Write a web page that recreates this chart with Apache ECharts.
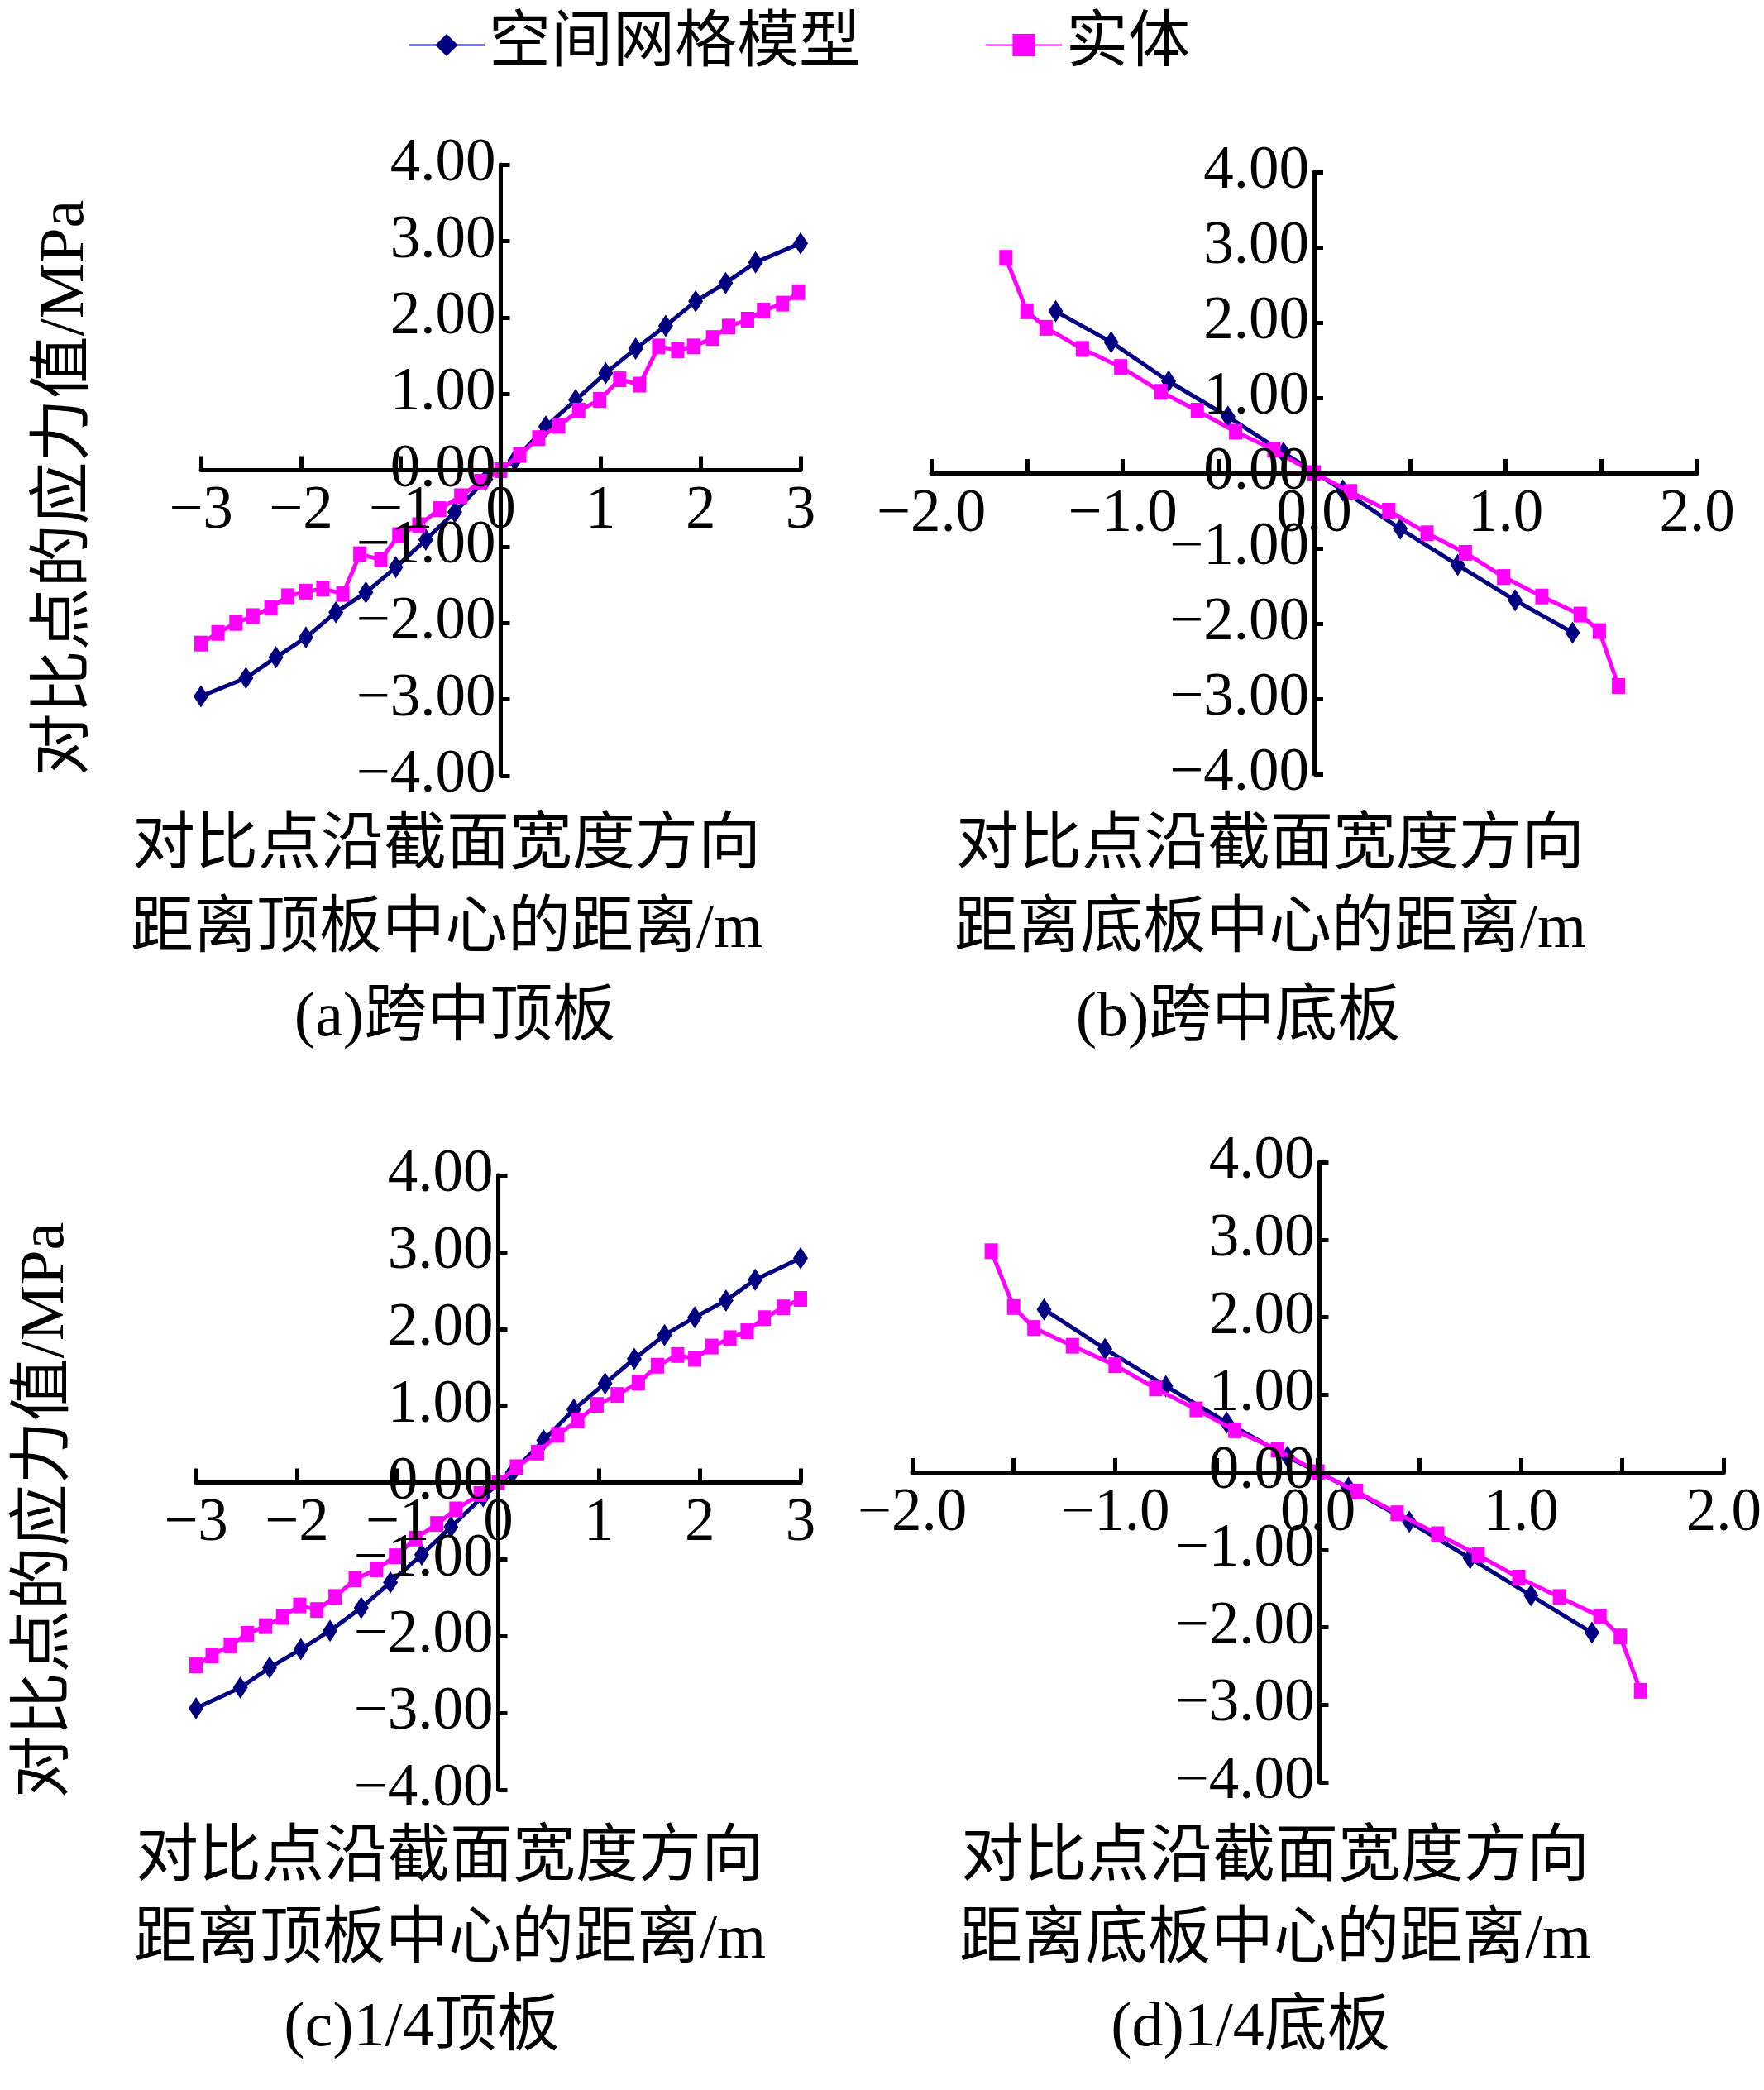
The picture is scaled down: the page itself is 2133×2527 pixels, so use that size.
<!DOCTYPE html>
<html>
<head>
<meta charset="utf-8">
<script src="https://cdn.jsdelivr.net/npm/echarts@6/dist/echarts.min.js"></script>
<style>
html,body{margin:0;padding:0;background:#fff;}
#chart{width:2133px;height:2527px;}
</style>
</head>
<body>
<div id="chart"></div>
<script>
// ---------- data ----------
const seriesNames = ['空间网格模型', '实体'];

// (a) 跨中顶板
const aGridX = [-3.0,-2.55,-2.25,-1.95,-1.65,-1.35,-1.05,-0.75,-0.46,-0.15,0.14,0.45,0.75,1.05,1.35,1.65,1.95,2.25,2.55,3.0];
const aGridY = [-2.96,-2.72,-2.45,-2.19,-1.86,-1.60,-1.27,-0.91,-0.55,-0.12,0.13,0.57,0.92,1.27,1.59,1.89,2.21,2.45,2.72,2.97];
const aSolidX = [-3.00,-2.83,-2.65,-2.48,-2.30,-2.13,-1.95,-1.78,-1.58,-1.41,-1.20,-1.02,-0.82,-0.61,-0.40,-0.20,0,0.19,0.38,0.58,0.78,0.99,1.19,1.39,1.58,1.77,1.93,2.12,2.28,2.47,2.63,2.82,2.98];
const aSolidY = [-2.27,-2.13,-2.00,-1.91,-1.80,-1.65,-1.59,-1.55,-1.62,-1.10,-1.17,-0.85,-0.72,-0.51,-0.34,-0.15,0,0.20,0.42,0.58,0.78,0.92,1.19,1.12,1.62,1.57,1.62,1.73,1.88,1.97,2.09,2.18,2.33];

// (b) 跨中底板
const bGridX = [-1.35,-1.06,-0.76,-0.45,-0.16,0.15,0.45,0.75,1.05,1.35];
const bGridY = [2.15,1.74,1.22,0.75,0.27,-0.23,-0.74,-1.22,-1.69,-2.12];
const bSolidX = [-1.61,-1.50,-1.40,-1.21,-1.01,-0.80,-0.61,-0.41,-0.21,0,0.19,0.39,0.59,0.79,0.99,1.19,1.39,1.49,1.59];
const bSolidY = [2.86,2.15,1.93,1.65,1.41,1.08,0.83,0.55,0.31,0,-0.25,-0.50,-0.80,-1.06,-1.38,-1.64,-1.88,-2.10,-2.83];

// (c) 1/4顶板
const cGridX = [-3.0,-2.56,-2.27,-1.96,-1.67,-1.36,-1.07,-0.76,-0.47,-0.15,0.14,0.45,0.75,1.06,1.35,1.65,1.95,2.26,2.55,3.0];
const cGridY = [-2.94,-2.67,-2.41,-2.17,-1.93,-1.63,-1.30,-0.94,-0.58,-0.18,0.13,0.55,0.95,1.29,1.61,1.92,2.15,2.37,2.64,2.92];
const cSolidX = [-3.00,-2.84,-2.66,-2.49,-2.31,-2.14,-1.97,-1.80,-1.62,-1.42,-1.21,-1.02,-0.82,-0.61,-0.42,-0.18,0,0.18,0.39,0.59,0.79,0.98,1.18,1.39,1.58,1.78,1.95,2.12,2.30,2.47,2.64,2.83,3.00];
const cSolidY = [-2.38,-2.25,-2.12,-1.97,-1.87,-1.75,-1.60,-1.66,-1.49,-1.26,-1.13,-0.96,-0.73,-0.54,-0.35,-0.15,0,0.20,0.39,0.62,0.81,1.01,1.14,1.30,1.52,1.66,1.61,1.77,1.88,1.97,2.14,2.28,2.39];

// (d) 1/4底板
const dGridX = [-1.35,-1.05,-0.75,-0.45,-0.15,0.15,0.45,0.75,1.05,1.35];
const dGridY = [2.10,1.59,1.11,0.64,0.20,-0.20,-0.64,-1.11,-1.59,-2.07];
const dSolidX = [-1.61,-1.50,-1.40,-1.21,-1.00,-0.80,-0.60,-0.41,-0.20,0,0.19,0.39,0.59,0.79,0.99,1.19,1.39,1.49,1.59];
const dSolidY = [2.85,2.13,1.86,1.63,1.38,1.08,0.81,0.54,0.29,0,-0.25,-0.53,-0.80,-1.07,-1.36,-1.61,-1.86,-2.12,-2.82];

// axis ranges / tick labels
const yTicks = {min: -4, max: 4, interval: 1};
const xTopTicks = {min: -3, max: 3, interval: 1};
const xBottomTicks = {min: -2, max: 2, interval: 0.5};

const xTitleLine1 = '对比点沿截面宽度方向';
const xTitleTop = '距离顶板中心的距离/m';
const xTitleBottom = '距离底板中心的距离/m';
const yTitle = '对比点的应力值/MPa';
const captions = ['(a)跨中顶板', '(b)跨中底板', '(c)1/4顶板', '(d)1/4底板'];

// ---------- chart ----------
const FONT = "'Liberation Serif','Times New Roman','Noto Sans CJK SC',serif";
const BLUE = '#000080';
const MAGENTA = '#ff00ff';

const grids = [
  {left: 243, top: 199, width: 725, height: 739},
  {left: 1126, top: 208, width: 926, height: 728},
  {left: 237, top: 1421, width: 731, height: 743},
  {left: 1103, top: 1405, width: 985, height: 750}
];

const fmtY = v => (v < -1e-9 ? '\u2212' : '') + Math.abs(v).toFixed(2);
const fmtXTop = v => (v < -1e-9 ? '\u2212' : '') + Math.abs(v).toFixed(0);
const fmtXBottom = v => {
  if (Math.abs(Math.round(v * 2)) % 2 === 1) return '';
  return (v < -1e-9 ? '\u2212' : '') + Math.abs(v).toFixed(1);
};

// axes cross at the origin: both ranges are symmetric, so shift each axis half the grid inward
function xAxisFor(i, ticks, fmt) {
  return {
    type: 'value', gridIndex: i, min: ticks.min, max: ticks.max, interval: ticks.interval,
    position: 'bottom', offset: -grids[i].height / 2,
    axisLine: {onZero: false, lineStyle: {color: '#000', width: 5}},
    axisTick: {show: true, inside: true, length: 17, lineStyle: {color: '#000', width: 5}},
    axisLabel: {formatter: fmt, color: '#000', fontSize: 73, fontFamily: FONT, margin: 14},
    splitLine: {show: false}, z: 5
  };
}
function yAxisFor(i) {
  return {
    type: 'value', gridIndex: i, min: yTicks.min, max: yTicks.max, interval: yTicks.interval,
    position: 'left', offset: -grids[i].width / 2,
    axisLine: {onZero: false, lineStyle: {color: '#000', width: 5}},
    axisTick: {show: true, inside: true, length: 11, lineStyle: {color: '#000', width: 5}},
    axisLabel: {formatter: fmtY, color: '#000', fontSize: 73, fontFamily: FONT, margin: 6},
    splitLine: {show: false}, z: 5
  };
}

const zip = (xs, ys) => xs.map((x, k) => [x, ys[k]]);

function gridSeries(i, xs, ys) {
  return {
    name: seriesNames[0], type: 'line', xAxisIndex: i, yAxisIndex: i,
    data: zip(xs, ys), symbol: 'diamond', symbolSize: [18, 27], showAllSymbol: true,
    itemStyle: {color: BLUE}, lineStyle: {color: BLUE, width: 5}, z: 3
  };
}
function solidSeries(i, xs, ys) {
  return {
    name: seriesNames[1], type: 'line', xAxisIndex: i, yAxisIndex: i,
    data: zip(xs, ys), symbol: 'rect', symbolSize: [16, 19], showAllSymbol: true,
    itemStyle: {color: MAGENTA}, lineStyle: {color: MAGENTA, width: 5}, z: 4
  };
}

function text(x, y, str, size, rot) {
  return {
    type: 'text', x: x, y: y, rotation: rot || 0,
    style: {text: str, fontSize: size, fontFamily: FONT, fill: '#000',
            align: 'center', verticalAlign: 'middle'}
  };
}

const graphics = [
  text(540, 1024, xTitleLine1, 76), text(540, 1125, xTitleTop, 76), text(550, 1232, captions[0], 76),
  text(1536, 1024, xTitleLine1, 76), text(1536, 1125, xTitleBottom, 76), text(1497, 1232, captions[1], 76),
  text(544, 2248, xTitleLine1, 76), text(544, 2347, xTitleTop, 76), text(510, 2453, captions[2], 76),
  text(1542, 2248, xTitleLine1, 76), text(1542, 2347, xTitleBottom, 76), text(1512, 2453, captions[3], 76),
  text(80, 590, yTitle, 76, Math.PI / 2),
  text(56, 1826, yTitle, 76, Math.PI / 2)
];

const option = {
  backgroundColor: '#fff',
  animation: false,
  legend: {
    data: seriesNames, left: 488, top: 12, itemWidth: 92, itemHeight: 34, itemGap: 150,
    textStyle: {fontSize: 75, fontFamily: FONT, color: '#000'}
  },
  grid: grids,
  xAxis: [xAxisFor(0, xTopTicks, fmtXTop), xAxisFor(1, xBottomTicks, fmtXBottom),
          xAxisFor(2, xTopTicks, fmtXTop), xAxisFor(3, xBottomTicks, fmtXBottom)],
  yAxis: [yAxisFor(0), yAxisFor(1), yAxisFor(2), yAxisFor(3)],
  series: [
    gridSeries(0, aGridX, aGridY), solidSeries(0, aSolidX, aSolidY),
    gridSeries(1, bGridX, bGridY), solidSeries(1, bSolidX, bSolidY),
    gridSeries(2, cGridX, cGridY), solidSeries(2, cSolidX, cSolidY),
    gridSeries(3, dGridX, dGridY), solidSeries(3, dSolidX, dSolidY)
  ],
  graphic: graphics
};

const chart = echarts.init(document.getElementById('chart'), null, {renderer: 'canvas'});
chart.setOption(option);
</script>
</body>
</html>
